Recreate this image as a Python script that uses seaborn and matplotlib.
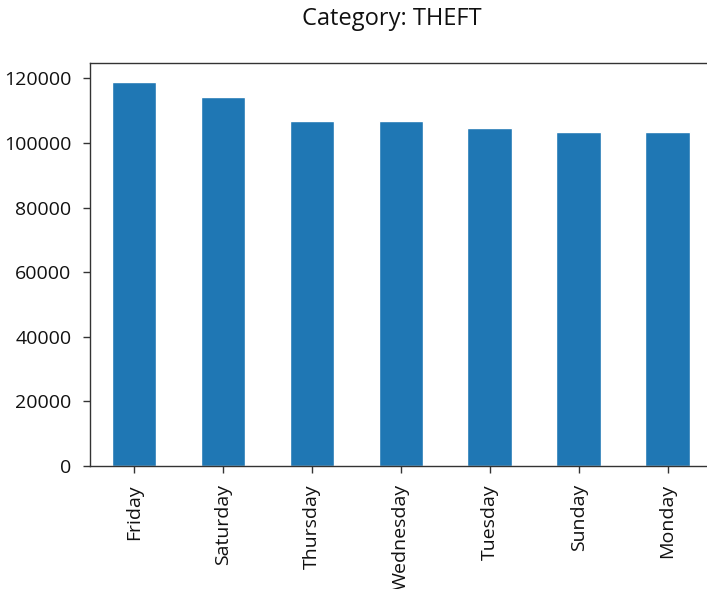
import matplotlib
matplotlib.use("Agg")
import matplotlib.pyplot as plt
import seaborn as sns
import pandas as pd

# Theft incidents per day of the week, sorted by count
days = ["Friday", "Saturday", "Thursday", "Wednesday", "Tuesday", "Sunday", "Monday"]
counts = [118900, 114300, 106900, 106850, 104600, 103500, 103450]
category = "THEFT"

sns.set_theme(style="white")
plt.rcParams["font.family"] = ["Open Sans", "DejaVu Sans"]

df = pd.DataFrame({"day": days, "count": counts})

fig = plt.figure(figsize=(7.07, 5.89), dpi=100)
ax = fig.add_axes([89.5 / 707, 1 - 466 / 589, (712 - 89.5) / 707, (466 - 62.7) / 589])

sns.barplot(data=df, x="day", y="count", color="#1f77b4", saturation=1,
            width=0.5, ax=ax, order=days)

ax.set_xlim(-0.5, len(days) - 0.5)
ax.set_ylim(0, max(counts) * 1.05)
ax.set_yticks([0, 20000, 40000, 60000, 80000, 100000, 120000])
ax.set_xlabel("")
ax.set_ylabel("")

for side in ["left", "bottom", "top", "right"]:
    ax.spines[side].set_visible(True)
    ax.spines[side].set_color("#333333")
    ax.spines[side].set_linewidth(1.0)

ax.tick_params(axis="both", which="major", direction="out", length=5, width=1,
               color="#333333", labelsize=14, labelcolor="#111111", pad=8,
               bottom=True, left=True)
ax.tick_params(axis="x", labelrotation=90)

fig.text(392 / 707, 1 - 7 / 589, f"Category: {category}", ha="center", va="top",
         fontsize=17, color="#111111")

fig.savefig("out.png", dpi=100)
